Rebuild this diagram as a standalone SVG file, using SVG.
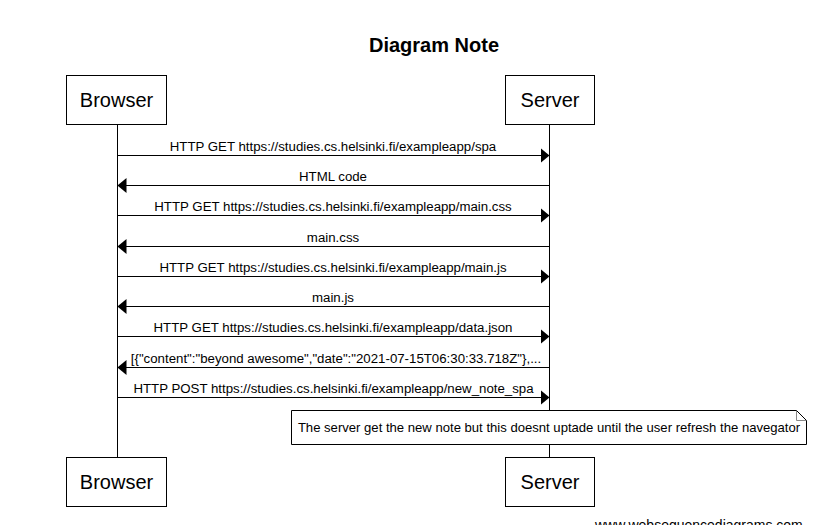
<svg xmlns="http://www.w3.org/2000/svg" width="830" height="525" viewBox="0 0 830 525">
<style>
text{font-family:"Liberation Sans",Arial,sans-serif;fill:#000}
.title{font-size:20px;font-weight:bold;text-anchor:middle}
.actor rect{fill:#fff;stroke:#000;stroke-width:1}
.actor text{font-size:20px;text-anchor:middle}
.life{stroke:#000;stroke-width:1}
.msg line{stroke:#000;stroke-width:1}
.msg text{font-size:13.25px;text-anchor:middle}
.note path{fill:#fff;stroke:#000;stroke-width:1}
.note .fold{fill:none;stroke:#888}
.note text{font-size:13.1px;text-anchor:middle}
.wm{font-size:14px}
</style>
<defs>
<marker id="ah" viewBox="0 0 9 15" refX="9" refY="7.5" markerWidth="9" markerHeight="15" markerUnits="userSpaceOnUse" orient="auto">
<path d="M0,0 L9,7.5 L0,15 Z" fill="#000"/>
</marker>
</defs>
<rect width="830" height="525" fill="#fff"/>
<text class="title" x="434" y="52">Diagram Note</text>
<g id="lifelines">
<line class="life" x1="117.5" y1="124" x2="117.5" y2="457"/>
<line class="life" x1="549.5" y1="124" x2="549.5" y2="457"/>
</g>
<g id="connectors" class="msg">
<line x1="117.5" y1="155.5" x2="549.5" y2="155.5" marker-end="url(#ah)"/>
<text x="333" y="150.5">HTTP GET https://studies.cs.helsinki.fi/exampleapp/spa</text>
<line x1="549.5" y1="185.5" x2="117.5" y2="185.5" marker-end="url(#ah)"/>
<text x="333" y="180.5">HTML code</text>
<line x1="117.5" y1="215.5" x2="549.5" y2="215.5" marker-end="url(#ah)"/>
<text x="333" y="210.5">HTTP GET https://studies.cs.helsinki.fi/exampleapp/main.css</text>
<line x1="549.5" y1="246.5" x2="117.5" y2="246.5" marker-end="url(#ah)"/>
<text x="333" y="241.5">main.css</text>
<line x1="117.5" y1="276.5" x2="549.5" y2="276.5" marker-end="url(#ah)"/>
<text x="333" y="271.5">HTTP GET https://studies.cs.helsinki.fi/exampleapp/main.js</text>
<line x1="549.5" y1="306.5" x2="117.5" y2="306.5" marker-end="url(#ah)"/>
<text x="333" y="301.5">main.js</text>
<line x1="117.5" y1="336.5" x2="549.5" y2="336.5" marker-end="url(#ah)"/>
<text x="333" y="331.5">HTTP GET https://studies.cs.helsinki.fi/exampleapp/data.json</text>
<line x1="549.5" y1="367.5" x2="117.5" y2="367.5" marker-end="url(#ah)"/>
<text x="336" y="362.5">[{"content":"beyond awesome","date":"2021-07-15T06:30:33.718Z"},...</text>
<line x1="117.5" y1="397.5" x2="549.5" y2="397.5" marker-end="url(#ah)"/>
<text x="333.5" y="392.5">HTTP POST https://studies.cs.helsinki.fi/exampleapp/new_note_spa</text>
</g>
<g id="note" class="note">
<path d="M291.5,410.5 H796.5 L806.5,420.5 V444.5 H291.5 Z"/>
<path class="fold" d="M796.5,411 V420.5 H806"/>
<text x="549" y="432">The server get the new note but this doesnt uptade until the user refresh the navegator</text>
</g>
<g id="browser-top" class="actor">
<rect x="66.5" y="75.5" width="100" height="49"/>
<text x="116.5" y="107">Browser</text>
</g>
<g id="server-top" class="actor">
<rect x="505.5" y="75.5" width="89" height="49"/>
<text x="550" y="107">Server</text>
</g>
<g id="browser-bottom" class="actor">
<rect x="66.5" y="457.5" width="100" height="49"/>
<text x="116.5" y="489">Browser</text>
</g>
<g id="server-bottom" class="actor">
<rect x="505.5" y="457.5" width="89" height="49"/>
<text x="550" y="489">Server</text>
</g>
<text class="wm" x="595" y="530">www.websequencediagrams.com</text>
</svg>
